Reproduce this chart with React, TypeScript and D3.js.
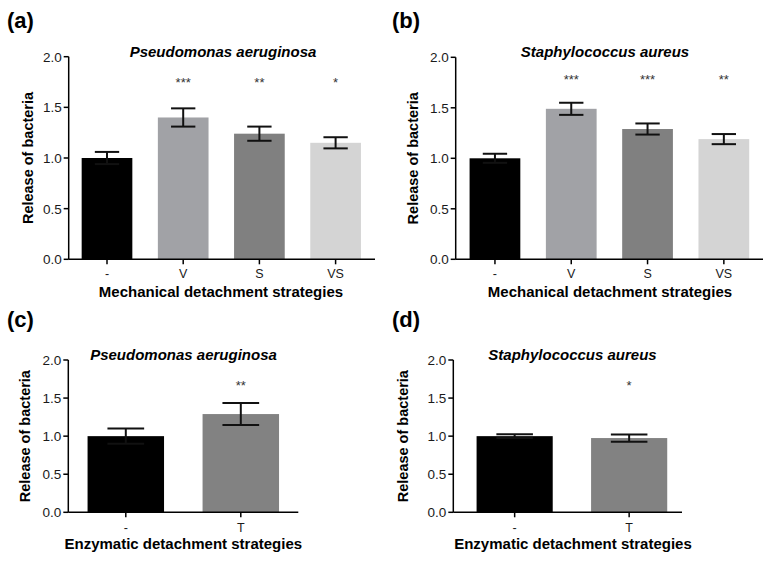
import React from 'react';
import * as d3 from 'd3';

// ---- data ----
const mechCategories = ['-', 'V', 'S', 'VS'];
const enzCategories = ['-', 'T'];
const yTicks = [0, 0.5, 1.0, 1.5, 2.0];

const paMechMeans = [1.0, 1.4, 1.24, 1.15];
const paMechErrors = [0.06, 0.09, 0.07, 0.055];
const paMechStars = ['', '***', '**', '*'];

const saMechMeans = [1.0, 1.49, 1.29, 1.19];
const saMechErrors = [0.045, 0.06, 0.055, 0.05];
const saMechStars = ['', '***', '***', '**'];

const paEnzMeans = [1.0, 1.29];
const paEnzErrors = [0.1, 0.145];
const paEnzStars = ['', '**'];

const saEnzMeans = [1.0, 0.975];
const saEnzErrors = [0.025, 0.047];
const saEnzStars = ['', '*'];

const mechColors = ['#000000', '#a1a2a6', '#808080', '#d4d4d4'];
const enzColors = ['#000000', '#828282'];

const FONT = '"Liberation Sans", Arial, Helvetica, sans-serif';

type Layout = {
  label: string;
  labelX: number;
  labelY: number;
  axisX: number;
  axisEnd: number;
  bandRange: [number, number];
  yTop: number;
  yBottom: number;
  titleX: number;
  titleY: number;
  yLabelX: number;
  xTitleX: number;
  xTitleY: number;
  tickLabelY: number;
  starLevel: number;
};

type PanelProps = {
  layout: Layout;
  title: string;
  xTitle: string;
  categories: string[];
  means: number[];
  errors: number[];
  stars: string[];
  colors: string[];
};

function Panel({ layout, title, xTitle, categories, means, errors, stars, colors }: PanelProps) {
  const x = d3
    .scaleBand<string>()
    .domain(categories)
    .range(layout.bandRange)
    .paddingInner(0.335)
    .paddingOuter(0.1675);
  const y = d3.scaleLinear().domain([0, 2]).range([layout.yBottom, layout.yTop]);
  const bw = x.bandwidth();
  const capW = bw * 0.48;
  const yMid = (layout.yTop + layout.yBottom) / 2;

  return (
    <g fontFamily={FONT}>
      <text x={layout.labelX} y={layout.labelY} fontSize={22} fontWeight="bold" fill="#000">
        {layout.label}
      </text>
      <text
        x={layout.titleX}
        y={layout.titleY}
        fontSize={15}
        fontWeight="bold"
        fontStyle="italic"
        textAnchor="middle"
        fill="#000"
      >
        {title}
      </text>

      {/* bars */}
      {categories.map((c, i) => (
        <rect
          key={'b' + c}
          x={x(c)}
          y={y(means[i])}
          width={bw}
          height={y(0) - y(means[i])}
          fill={colors[i]}
        />
      ))}

      {/* error bars */}
      {categories.map((c, i) => {
        const cx = (x(c) ?? 0) + bw / 2;
        const hi = y(means[i] + errors[i]);
        const lo = y(means[i] - errors[i]);
        return (
          <g key={'e' + c} stroke="#111" strokeWidth={2}>
            <line x1={cx} x2={cx} y1={hi} y2={lo} />
            <line x1={cx - capW / 2} x2={cx + capW / 2} y1={hi} y2={hi} />
            <line x1={cx - capW / 2} x2={cx + capW / 2} y1={lo} y2={lo} />
          </g>
        );
      })}

      {/* significance stars */}
      {categories.map((c, i) =>
        stars[i] ? (
          <text
            key={'s' + c}
            x={(x(c) ?? 0) + bw / 2}
            y={y(layout.starLevel) + 7.5}
            fontSize={13}
            textAnchor="middle"
            fill="#333"
          >
            {stars[i]}
          </text>
        ) : null
      )}

      {/* y axis */}
      <line
        x1={layout.axisX}
        x2={layout.axisX}
        y1={y(2)}
        y2={y(0)}
        stroke="#000"
        strokeWidth={1.5}
      />
      {yTicks.map((t) => (
        <g key={'yt' + t}>
          <line
            x1={layout.axisX - 5}
            x2={layout.axisX}
            y1={y(t)}
            y2={y(t)}
            stroke="#000"
            strokeWidth={1.5}
          />
          <text
            x={layout.axisX - 7}
            y={y(t)}
            dy="0.36em"
            fontSize={13.5}
            textAnchor="end"
            fill="#1a1a1a"
          >
            {d3.format('.1f')(t)}
          </text>
        </g>
      ))}

      {/* x axis */}
      <line
        x1={layout.axisX}
        x2={layout.axisEnd}
        y1={y(0)}
        y2={y(0)}
        stroke="#000"
        strokeWidth={1.5}
      />
      {categories.map((c) => {
        const cx = (x(c) ?? 0) + bw / 2;
        return (
          <g key={'xt' + c}>
            <line x1={cx} x2={cx} y1={y(0)} y2={y(0) + 5} stroke="#000" strokeWidth={1.5} />
            <text x={cx} y={layout.tickLabelY} fontSize={12.5} textAnchor="middle" fill="#1a1a1a">
              {c}
            </text>
          </g>
        );
      })}

      <text
        transform={`translate(${layout.yLabelX},${yMid}) rotate(-90)`}
        dy="0.36em"
        fontSize={14.5}
        fontWeight="bold"
        textAnchor="middle"
        fill="#000"
      >
        Release of bacteria
      </text>
      <text
        x={layout.xTitleX}
        y={layout.xTitleY}
        fontSize={15}
        fontWeight="bold"
        textAnchor="middle"
        fill="#000"
      >
        {xTitle}
      </text>
    </g>
  );
}

const layoutA: Layout = {
  label: '(a)', labelX: 7, labelY: 28,
  axisX: 68.7, axisEnd: 375, bandRange: [68.9, 373.7], yTop: 56.7, yBottom: 259.3,
  titleX: 223, titleY: 57, yLabelX: 28, xTitleX: 221, xTitleY: 297, tickLabelY: 277.5,
  starLevel: 1.77,
};
const layoutB: Layout = {
  label: '(b)', labelX: 392, labelY: 28,
  axisX: 455.7, axisEnd: 763, bandRange: [456.8, 762], yTop: 57.3, yBottom: 259.3,
  titleX: 605, titleY: 57, yLabelX: 413, xTitleX: 610, xTitleY: 297, tickLabelY: 277.5,
  starLevel: 1.81,
};
const layoutC: Layout = {
  label: '(c)', labelX: 7, labelY: 327,
  axisX: 68.3, axisEnd: 298.3, bandRange: [68.3, 298.3], yTop: 360, yBottom: 512.3,
  titleX: 183.5, titleY: 360, yLabelX: 25, xTitleX: 183.3, xTitleY: 549, tickLabelY: 531.5,
  starLevel: 1.7,
};
const layoutD: Layout = {
  label: '(d)', labelX: 392, labelY: 327,
  axisX: 453.3, axisEnd: 682, bandRange: [457.4, 686.4], yTop: 360, yBottom: 512.3,
  titleX: 572.5, titleY: 360, yLabelX: 403, xTitleX: 573, xTitleY: 549, tickLabelY: 531.5,
  starLevel: 1.7,
};

export default function App() {
  return (
    <svg
      width={771}
      height={561}
      style={{ position: 'absolute', left: 0, top: 0, background: '#fff' }}
    >
      <rect width={771} height={561} fill="#fff" />
      <Panel
        layout={layoutA}
        title="Pseudomonas aeruginosa"
        xTitle="Mechanical detachment strategies"
        categories={mechCategories}
        means={paMechMeans}
        errors={paMechErrors}
        stars={paMechStars}
        colors={mechColors}
      />
      <Panel
        layout={layoutB}
        title="Staphylococcus aureus"
        xTitle="Mechanical detachment strategies"
        categories={mechCategories}
        means={saMechMeans}
        errors={saMechErrors}
        stars={saMechStars}
        colors={mechColors}
      />
      <Panel
        layout={layoutC}
        title="Pseudomonas aeruginosa"
        xTitle="Enzymatic detachment strategies"
        categories={enzCategories}
        means={paEnzMeans}
        errors={paEnzErrors}
        stars={paEnzStars}
        colors={enzColors}
      />
      <Panel
        layout={layoutD}
        title="Staphylococcus aureus"
        xTitle="Enzymatic detachment strategies"
        categories={enzCategories}
        means={saEnzMeans}
        errors={saEnzErrors}
        stars={saEnzStars}
        colors={enzColors}
      />
    </svg>
  );
}
